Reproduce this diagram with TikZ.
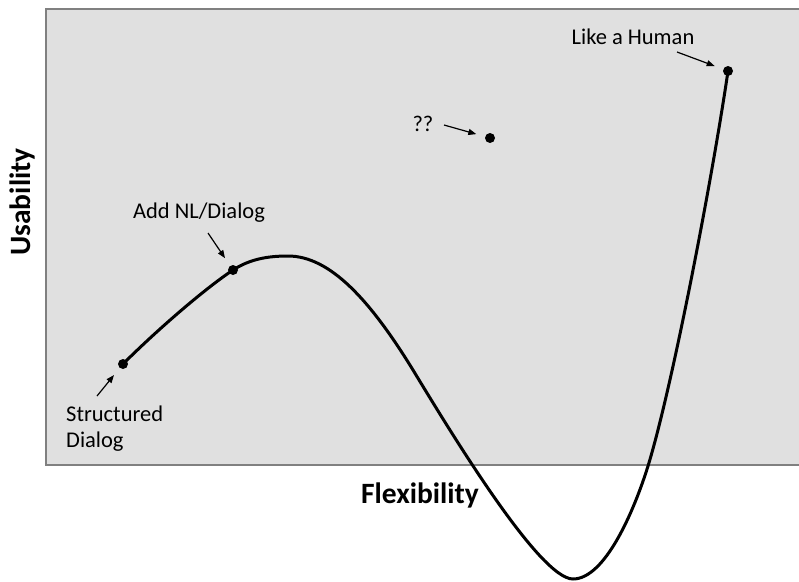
\documentclass[tikz,border=0pt]{standalone}
\usepackage{fontspec}
\setmainfont{Carlito}
\usetikzlibrary{arrows.meta}
\definecolor{panelgray}{RGB}{224,224,224}
\definecolor{framegray}{RGB}{128,128,128}

\begin{document}
\begin{tikzpicture}[x=1pt,y=-1pt,
    dot/.style={circle,fill=black,inner sep=0pt,minimum size=10pt},
    lbl/.style={font=\fontsize{22.5}{26}\selectfont,inner sep=0pt},
    axislbl/.style={font=\fontsize{29.5}{34}\selectfont\bfseries,inner sep=0pt},
    pointer/.style={-{Triangle[length=8pt,width=6pt]},line width=1.2pt,shorten >=9pt}]
    \useasboundingbox (0,0) rectangle (799,581);
    \draw[framegray,fill=panelgray,line width=2pt] (46,9) rectangle (830,465);

    % points on the curve
    \coordinate (peak) at (288,256);
    \coordinate (bend) at (413,370);
    \coordinate (trough) at (573,579);
    \coordinate (rise) at (648,466);

    \draw[line width=3pt] (123,364) .. controls (155,332) and (203,290) .. (233,270)
        .. controls (250,259) and (268,256) .. (peak)
        .. controls (330,256) and (370,300) .. (bend)
        .. controls (453,436) and (540,579) .. (trough)
        .. controls (605,579) and (634,511) .. (rise)
        .. controls (672,388) and (712,180) .. (728,71);

    \node[dot] (structured) at (123,364) {};
    \node[dot] (nldialog) at (233,270) {};
    \node[dot] (unknown) at (490,138) {};
    \node[dot] (human) at (728,71) {};

    \node[lbl,align=left,anchor=west] (structuredlbl) at (66,429) {Structured\\Dialog};
    \node[lbl] (nldialoglbl) at (199,213) {Add NL/Dialog};
    \node[lbl] (unknownlbl) at (423,124) {??};
    \node[lbl] (humanlbl) at (633,37) {Like a Human};

    \coordinate (structuredtail) at (97,396);
    \coordinate (nldialogtail) at (208,233);
    \coordinate (unknowntail) at (444,125);
    \coordinate (humantail) at (677,52);

    \draw[pointer] (structuredtail) -- (structured);
    \draw[pointer] (nldialogtail) -- (nldialog);
    \draw[pointer] (unknowntail) -- (unknown);
    \draw[pointer] (humantail) -- (human);

    \node[axislbl] (flex) at (420,495) {Flexibility};
    \node[axislbl,rotate=90] (usab) at (22,202) {Usability};
\end{tikzpicture}
\end{document}
